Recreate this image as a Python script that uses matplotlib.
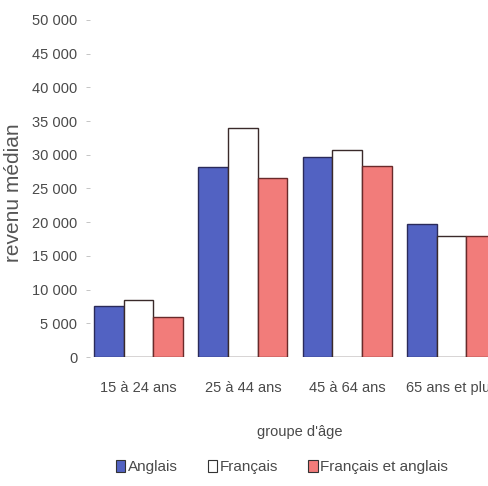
import numpy as np
import matplotlib
matplotlib.use("Agg")
import matplotlib.pyplot as plt
from matplotlib.patches import Patch

# revenu médian par groupe d'âge et langue
groupes = ["15 à 24 ans", "25 à 44 ans", "45 à 64 ans", "65 ans et plus"]
anglais = [7500, 28200, 29600, 19700]
francais = [8400, 34000, 30700, 18000]
fr_et_ang = [5900, 26500, 28400, 18000]

series = ["Anglais", "Français", "Français et anglais"]
couleurs = ["#5262c2", "#ffffff", "#f27c7a"]
bords = ["#2a2a5a", "#3a2a2a", "#6a2a2a"]

police = ["Liberation Sans", "DejaVu Sans"]
txt = "#4a4a4a"

fig = plt.figure(figsize=(4.89, 4.86), dpi=100)
# axes runs past the right edge so the last group is cut off
ax = fig.add_axes([90 / 489, 1 - 357 / 486, 420 / 489, 337 / 486])

x = np.arange(len(groupes))
w = 0.285
for i, (vals, c, b) in enumerate(zip([anglais, francais, fr_et_ang], couleurs, bords)):
    ax.bar(x + (i - 1) * w, vals, width=w, color=c, edgecolor=b, linewidth=1.0)

ax.set_xlim(-0.465, 3.56)
ax.set_ylim(0, 50000)
ax.set_yticks(np.arange(0, 50001, 5000))
ax.set_yticklabels([f"{v:,}".replace(",", " ") for v in range(0, 50001, 5000)],
                   family=police, fontsize=10.5, color=txt)
ax.set_xticks(x)
ax.set_xticklabels(groupes, family=police, fontsize=10.5, color=txt)
ax.tick_params(axis="y", length=3, width=0.6, color="#bbbbbb", pad=6)
ax.tick_params(axis="x", length=0, pad=17)
for s in ax.spines.values():
    s.set_visible(False)

fig.text(14 / 489, 1 - 193 / 486, "revenu médian", rotation=90, ha="center", va="center",
         family=police, fontsize=15, color="#555555")
fig.text(300 / 489, 1 - 432 / 486, "groupe d'âge", ha="center", va="center",
         family=police, fontsize=10.5, color=txt)

handles = [Patch(facecolor=c, edgecolor="#333333", linewidth=0.8) for c in couleurs]
fig.legend(handles, series, loc="center", bbox_to_anchor=(282 / 489, 1 - 467 / 486),
           ncol=3, frameon=False, handlelength=0.6, handleheight=0.9, handletextpad=0.15,
           columnspacing=2.0, prop={"family": police, "size": 11}, labelcolor=txt)

fig.savefig("out.png", dpi=100)
